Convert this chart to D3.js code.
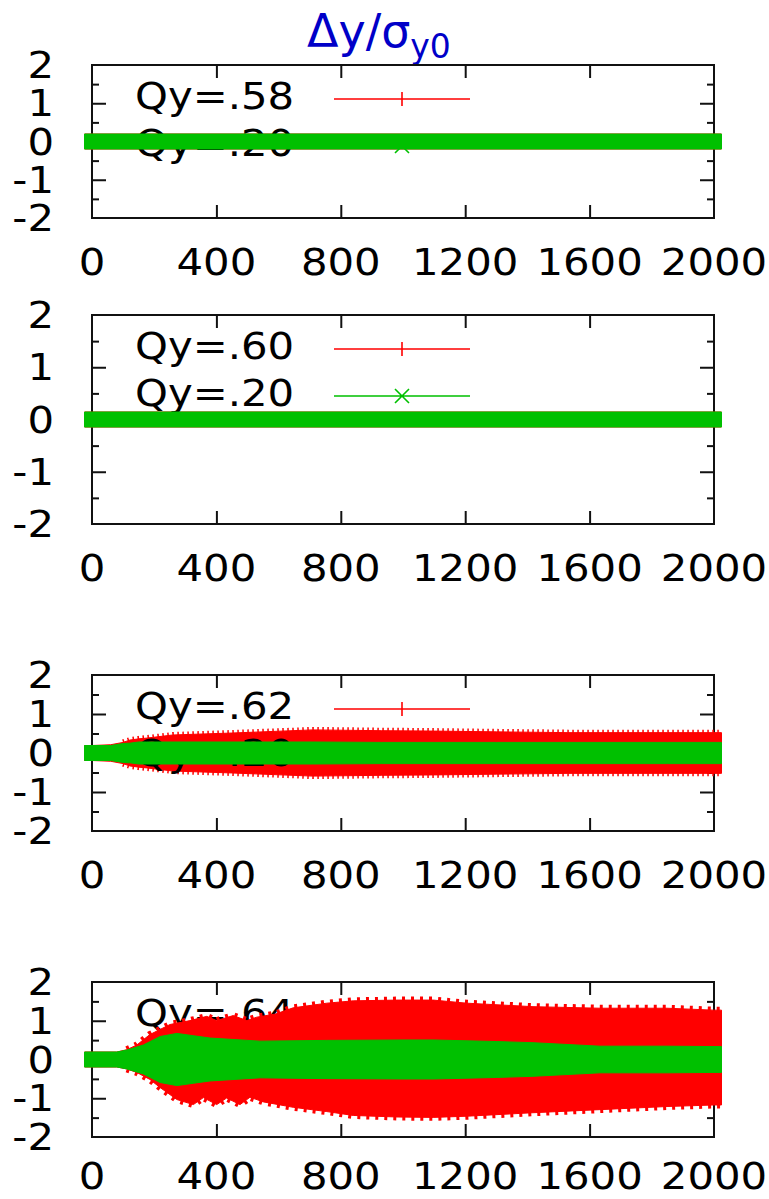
<!DOCTYPE html>
<html><head><meta charset="utf-8">
<script src="https://cdn.jsdelivr.net/npm/d3@7"></script>
<style>body{margin:0;background:#fff}svg{display:block}</style>
</head><body><svg id="c" width="769" height="1199"></svg>
<script>
// ---------- data ----------
const xTicks = [0, 400, 800, 1200, 1600, 2000];
const yTicks = [-2, -1, 0, 1, 2];
const yMinorTicks = [-1.5, -0.5, 0.5, 1.5];
const redLabels = ["Qy=.58", "Qy=.60", "Qy=.62", "Qy=.64"];
const greenLabel = "Qy=.20";

// Panel 1 (Qy=.58) envelopes: turn, upper / lower amplitude
const turnsA = [0, 2000];
const redUpA = [0, 0];
const redLoA = [0, 0];
const greenA = [0, 0];

// Panel 2 (Qy=.60)
const turnsB = [0, 2000];
const redUpB = [0, 0];
const redLoB = [0, 0];
const greenB = [0, 0];

// Panel 3 (Qy=.62)
const turnsC = [0, 60, 100, 122, 150, 176, 260, 450, 710, 930, 1100, 1300, 1530, 1850, 2000];
const redUpC = [0, 0.02, 0.08, 0.14, 0.17, 0.19, 0.27, 0.32, 0.40, 0.38, 0.37, 0.35, 0.33, 0.33, 0.33];
const redLoC = [0, 0.02, 0.08, 0.14, 0.17, 0.19, 0.27, 0.32, 0.40, 0.38, 0.37, 0.35, 0.33, 0.33, 0.33];
const greenC = [0, 0, 0.05, 0.06, 0.09, 0.09, 0.09, 0.09, 0.09, 0.08, 0.08, 0.08, 0.08, 0.08, 0.08];

// Panel 4 (Qy=.64)
const turnsDup = [0, 80, 112, 144, 186, 251, 315, 369, 401, 454, 498, 530, 590, 647, 755, 840, 980, 1097, 1205, 1418, 1633, 1849, 2000];
const redUpD = [0, 0, 0.06, 0.18, 0.45, 0.71, 0.81, 0.92, 0.81, 0.94, 0.81, 0.90, 0.98, 1.14, 1.26, 1.32, 1.34, 1.34, 1.26, 1.17, 1.13, 1.13, 1.08];
const turnsDlo = [0, 80, 112, 144, 186, 219, 273, 326, 358, 401, 433, 476, 508, 551, 647, 755, 840, 980, 1097, 1205, 1418, 1633, 1849, 2000];
const redLoD = [0, 0, 0.05, 0.14, 0.32, 0.53, 0.84, 0.97, 0.79, 0.97, 0.80, 0.97, 0.78, 0.90, 1.04, 1.15, 1.25, 1.29, 1.30, 1.27, 1.18, 1.10, 1.02, 0.98];
const turnsDg = [0, 80, 112, 165, 219, 273, 326, 380, 540, 755, 1000, 1100, 1300, 1418, 1633, 1849, 2000];
const greenD = [0, 0, 0.05, 0.18, 0.40, 0.48, 0.42, 0.36, 0.28, 0.30, 0.31, 0.31, 0.27, 0.24, 0.15, 0.15, 0.14];

// ---------- layout ----------
const RED = "#ff0000", GREEN = "#00c000";
const FONT = "DejaVu Sans, Verdana, sans-serif";
const X0 = 92, X1 = 714;
const FS = 38, SX = 1.1;
const MK = 7.5; // half size of point markers (px)
const panels = [
  {top: 65,  bottom: 218,  red: {tu: turnsA, up: redUpA, tl: turnsA, lo: redLoA}, green: {t: turnsA, a: greenA}, teeth: 0},
  {top: 315, bottom: 524,  red: {tu: turnsB, up: redUpB, tl: turnsB, lo: redLoB}, green: {t: turnsB, a: greenB}, teeth: 0},
  {top: 675, bottom: 831,  red: {tu: turnsC, up: redUpC, tl: turnsC, lo: redLoC}, green: {t: turnsC, a: greenC}, teeth: 1},
  {top: 982, bottom: 1137, red: {tu: turnsDup, up: redUpD, tl: turnsDlo, lo: redLoD}, green: {t: turnsDg, a: greenD}, teeth: 2}
];

const svg = d3.select("#c");
svg.append("rect").attr("width", 769).attr("height", 1199).attr("fill", "#fff");

function stext(g, x, y, str, anchor, size, sx, color) {
  return g.append("text")
    .attr("transform", `translate(${x},${y}) scale(${sx},1)`)
    .attr("text-anchor", anchor)
    .attr("font-family", FONT)
    .attr("font-size", size)
    .attr("fill", color || "#000")
    .text(str);
}

// title
const title = svg.append("text").attr("x", 307).attr("y", 47)
  .attr("font-family", FONT).attr("font-size", 46).attr("fill", "#0000c8");
title.append("tspan").text("Δy/σ");
title.append("tspan").attr("font-size", 33).attr("dy", 11).text("y0");

panels.forEach((p, i) => {
  const x = d3.scaleLinear().domain([0, 2000]).range([X0, X1]);
  const y = d3.scaleLinear().domain([-2, 2]).range([p.bottom, p.top]);
  const g = svg.append("g");

  // frame
  g.append("rect").attr("x", X0).attr("y", p.top).attr("width", X1 - X0).attr("height", p.bottom - p.top)
    .attr("fill", "none").attr("stroke", "#111").attr("stroke-width", 2);

  const styleAxis = sel => {
    sel.select(".domain").remove();
    sel.selectAll("line").attr("stroke", "#111").attr("stroke-width", 2);
    sel.selectAll("text").remove();
  };
  const inner = xTicks.slice(1, -1);
  g.append("g").attr("transform", `translate(0,${p.bottom})`)
    .call(d3.axisBottom(x).tickValues(inner).tickSize(-13)).call(styleAxis);
  g.append("g").attr("transform", `translate(0,${p.top})`)
    .call(d3.axisTop(x).tickValues(inner).tickSize(-13)).call(styleAxis);
  const innerY = yTicks.slice(1, -1);
  g.append("g").attr("transform", `translate(${X0},0)`)
    .call(d3.axisLeft(y).tickValues(innerY).tickSize(-14)).call(styleAxis);
  g.append("g").attr("transform", `translate(${X0},0)`)
    .call(d3.axisLeft(y).tickValues(yMinorTicks).tickSize(-7)).call(styleAxis);
  g.append("g").attr("transform", `translate(${X1},0)`)
    .call(d3.axisRight(y).tickValues(innerY).tickSize(-14)).call(styleAxis);
  g.append("g").attr("transform", `translate(${X1},0)`)
    .call(d3.axisRight(y).tickValues(yMinorTicks).tickSize(-7)).call(styleAxis);

  // tick labels
  const xlY = Math.min(p.bottom + 57, 1189);
  xTicks.forEach(t => stext(g, x(t), xlY, String(t), "middle", FS, SX));
  yTicks.forEach(t => stext(g, 54, y(t) + 13, String(t), "end", FS, SX));

  // band builder: data envelope inflated by marker size in pixel space
  const line = d3.line();
  const bandPts = (tu, up, tl, lo) => {
    const top = tu.map((t, k) => [x(t), y(up[k]) - MK]);
    const bot = tl.map((t, k) => [x(t), y(-lo[k]) + MK]);
    top.unshift([top[0][0] - MK, top[0][1]]);
    top.push([top[top.length - 1][0] + MK, top[top.length - 1][1]]);
    bot.unshift([bot[0][0] - MK, bot[0][1]]);
    bot.push([bot[bot.length - 1][0] + MK, bot[bot.length - 1][1]]);
    return {top, bot};
  };
  const drawBand = (b, color, teeth) => {
    const d = line(b.top.concat(b.bot.slice().reverse())) + "Z";
    g.append("path").attr("d", d).attr("fill", color).attr("stroke", color)
      .attr("stroke-width", 1).attr("stroke-linejoin", "miter");
    if (teeth) {
      const x100 = x(100);
      [b.top, b.bot].forEach(edge => {
        const pts = edge.filter(q => q[0] >= x100);
        g.append("path").attr("d", line(pts)).attr("fill", "none").attr("stroke", color)
          .attr("stroke-width", teeth === 2 ? 7 : 6)
          .attr("stroke-dasharray", teeth === 2 ? "3 6" : "1.5 3.5");
      });
    }
  };

  const row1 = p.top + 34, row2 = p.top + 81;
  const sx0 = 334, sx1 = 470, sm = 402;

  // red key + data
  stext(g, 135, row1 + 10, redLabels[i], "start", FS, SX);
  g.append("path").attr("d", `M${sx0},${row1}H${sx1}M${sm - 7},${row1}H${sm + 7}M${sm},${row1 - 7}V${row1 + 7}`)
    .attr("stroke", RED).attr("stroke-width", 1.6).attr("fill", "none");
  drawBand(bandPts(p.red.tu, p.red.up, p.red.tl, p.red.lo), RED, p.teeth);

  // green key + data
  stext(g, 135, row2 + 10, greenLabel, "start", FS, SX);
  g.append("path").attr("d", `M${sx0},${row2}H${sx1}M${sm - 7},${row2 - 7}L${sm + 7},${row2 + 7}M${sm - 7},${row2 + 7}L${sm + 7},${row2 - 7}`)
    .attr("stroke", GREEN).attr("stroke-width", 1.6).attr("fill", "none");
  drawBand(bandPts(p.green.t, p.green.a, p.green.t, p.green.a), GREEN, 0);
});
</script></body></html>
